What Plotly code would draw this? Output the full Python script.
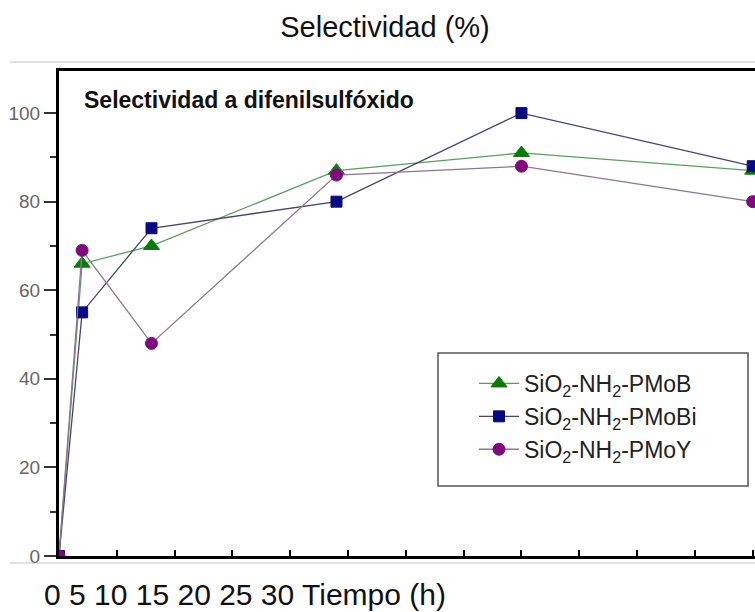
import plotly.graph_objects as go

# reaction time (h) and selectivity (%)
tiempo = [0, 1, 4, 12, 20, 30]
pmob = [0, 66, 70, 87, 91, 87]
pmobi = [0, 55, 74, 80, 100, 88]
pmoy = [0, 69, 48, 86, 88, 80]

series_names = [
    "SiO<sub>2</sub>-NH<sub>2</sub>-PMoB",
    "SiO<sub>2</sub>-NH<sub>2</sub>-PMoBi",
    "SiO<sub>2</sub>-NH<sub>2</sub>-PMoY",
]
time_labels = ["0", "5", "10", "15", "20", "25", "30"]
y_ticks = [0, 20, 40, 60, 80, 100]

FONT = "Liberation Sans, Arial, sans-serif"

# plot area in pixels: left 59, right 755, top 71, bottom 556
W, H = 755, 612
L, R, T, B = 59, 0, 71, 56
PW, PH = W - L - R, H - T - B


def px(x):
    return (x - L) / PW


def py(y):
    return (H - B - y) / PH


fig = go.Figure()

styles = [
    (pmob, series_names[0], "triangle-up", 14, "#0a7a0a", "#5c9e5c"),
    (pmobi, series_names[1], "square", 11, "#0a0a80", "#45456e"),
    (pmoy, series_names[2], "circle", 12, "#7e0a7e", "#8e7590"),
]
for vals, name, symbol, size, mcol, lcol in styles:
    fig.add_trace(go.Scatter(
        x=tiempo, y=vals,
        mode="lines+markers",
        name=name,
        line=dict(color=lcol, width=1.3),
        marker=dict(symbol=symbol, size=size, color=mcol,
                    line=dict(color=mcol, width=1)),
    ))

# legend frame
fig.add_shape(type="rect", xref="paper", yref="paper",
              x0=px(438), x1=px(748), y0=py(486), y1=py(353),
              line=dict(color="#555555", width=1.5), fillcolor="rgba(0,0,0,0)")

# faint horizontal rules above and below the chart
for yy in (62, 563):
    fig.add_shape(type="line", xref="paper", yref="paper",
                  x0=px(10), x1=1, y0=py(yy), y1=py(yy),
                  line=dict(color="#c4c4c4", width=1), layer="below")

fig.add_annotation(
    text="<b>Selectividad a difenilsulfóxido</b>",
    xref="paper", yref="paper", x=px(82), y=py(100),
    xanchor="left", yanchor="middle", showarrow=False,
    font=dict(family=FONT, size=23, color="#111111"),
)

fig.add_annotation(
    text=" ".join(time_labels) + " Tiempo (h)",
    xref="paper", yref="paper", x=px(42), y=py(594),
    xanchor="left", yanchor="middle", showarrow=False,
    font=dict(family=FONT, size=30, color="#111111"),
)

fig.update_layout(
    width=W, height=H,
    margin=dict(l=L, r=R, t=T, b=B),
    paper_bgcolor="white", plot_bgcolor="white",
    font=dict(family=FONT),
    title=dict(
        text="Selectividad (%)",
        x=385 / W, xanchor="center",
        y=1 - 27 / H, yanchor="middle",
        font=dict(family=FONT, size=29, color="#111111"),
    ),
    showlegend=True,
    legend=dict(
        x=px(474), y=py(362), xanchor="left", yanchor="top",
        bgcolor="rgba(0,0,0,0)", borderwidth=0,
        itemwidth=40,
        font=dict(family=FONT, size=23, color="#222222"),
    ),
    xaxis=dict(
        range=[0, 30.1],
        showgrid=False, zeroline=False,
        showline=True, linecolor="black", linewidth=3, mirror=True,
        ticks="inside", ticklen=6, tickwidth=2, tickcolor="black",
        dtick=2.5, tick0=0, showticklabels=False,
    ),
    yaxis=dict(
        range=[0, 109.5],
        showgrid=False, zeroline=False,
        showline=True, linecolor="black", linewidth=3,
        ticks="outside", ticklen=12, tickwidth=1.5, tickcolor="#333333",
        tickvals=y_ticks,
        tickfont=dict(family=FONT, size=19, color="#666666"),
        minor=dict(dtick=10, ticks="outside", ticklen=6,
                   tickwidth=1.5, tickcolor="#333333"),
    ),
)

# drop the default page margin so the figure sits at the window corner
fig.write_html("out.html", config={"displayModeBar": False},
               post_script="document.body.style.margin='0';")
